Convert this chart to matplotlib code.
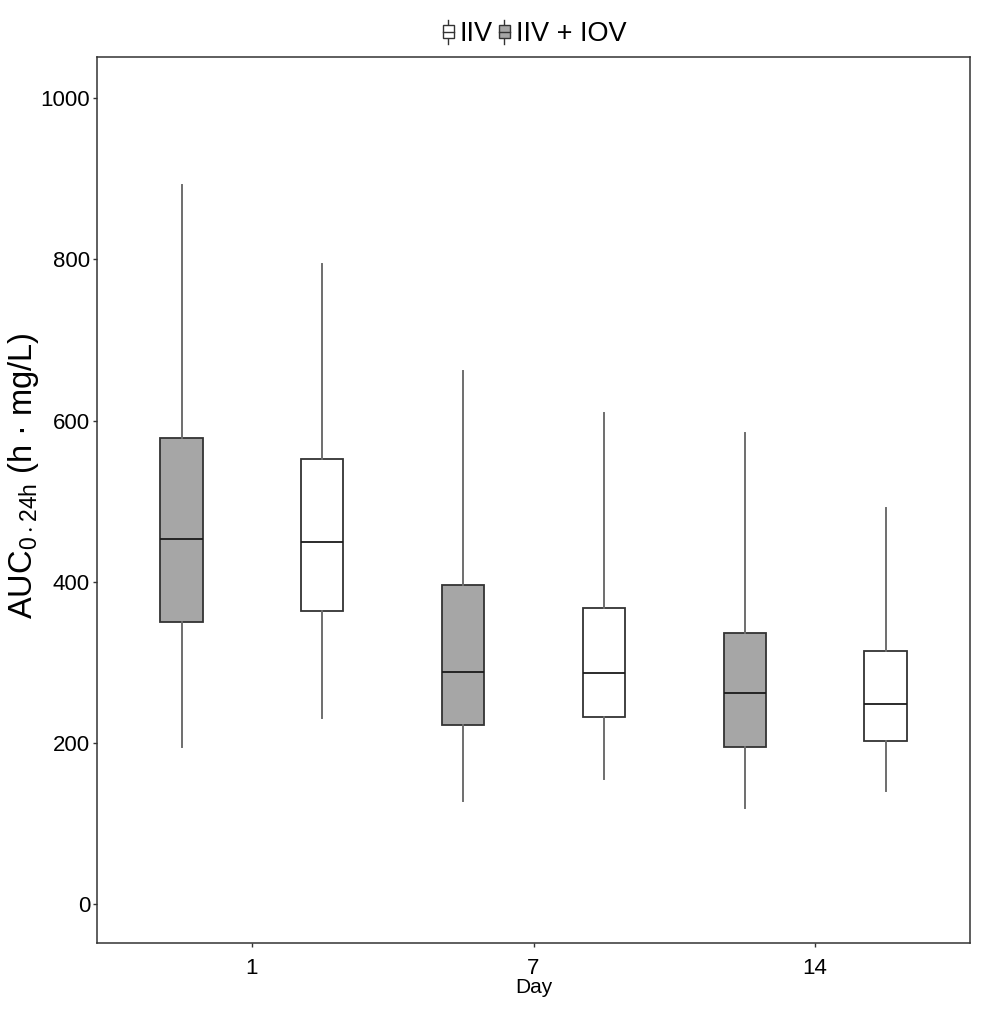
import numpy as np
import matplotlib.pyplot as plt
from matplotlib.legend_handler import HandlerBase
from matplotlib.patches import Rectangle
from matplotlib.lines import Line2D

plt.rcParams['font.family'] = ['Liberation Sans', 'DejaVu Sans']
plt.rcParams['mathtext.fontset'] = 'custom'
plt.rcParams['mathtext.rm'] = 'Liberation Sans'

# values
days = ['1', '7', '14']

# IIV + IOV (grey boxes)
iov_min = [195, 128, 119]
iov_q1 = [350, 223, 195]
iov_med = [453, 288, 262]
iov_q3 = [578, 396, 336]
iov_max = [892, 662, 585]

# IIV (white boxes)
iiv_min = [231, 156, 141]
iiv_q1 = [364, 232, 202]
iiv_med = [449, 287, 248]
iiv_q3 = [552, 367, 314]
iiv_max = [794, 609, 491]


def make_stats(lo, q1, med, q3, hi):
    return [dict(whislo=a, q1=b, med=c, q3=d, whishi=e, fliers=[])
            for a, b, c, d, e in zip(lo, q1, med, q3, hi)]


grey = '#a6a6a6'
edge = '#333333'
wcol = '#6e6e6e'

fig = plt.figure(figsize=(9.84, 10.09), dpi=100)
ax = fig.add_axes([0.0986, 0.0654, 0.8872, 0.8781])

pos = np.arange(1, len(days) + 1)
common = dict(widths=0.15, patch_artist=True, showcaps=False,
              medianprops=dict(color='#1a1a1a', linewidth=1.3),
              whiskerprops=dict(color=wcol, linewidth=1.4))

ax.bxp(make_stats(iov_min, iov_q1, iov_med, iov_q3, iov_max),
       positions=pos - 0.25,
       boxprops=dict(facecolor=grey, edgecolor=edge, linewidth=1.3),
       **common)
ax.bxp(make_stats(iiv_min, iiv_q1, iiv_med, iiv_q3, iiv_max),
       positions=pos + 0.25,
       boxprops=dict(facecolor='white', edgecolor=edge, linewidth=1.3),
       **common)

ax.set_xlim(0.45, 3.55)
ax.set_ylim(-48, 1051)
ax.set_xticks(pos)
ax.set_xticklabels(days)
ax.set_yticks(np.arange(0, 1001, 200))
ax.tick_params(labelsize=16, length=3, width=1, color='#333333',
               labelcolor='black')
ax.tick_params(axis='x', pad=8)
ax.tick_params(axis='y', pad=2)

for s in ax.spines.values():
    s.set_color('#333333')
    s.set_linewidth(1.1)

ax.set_xlabel('Day', fontsize=15, labelpad=-1)
fig.text(0.024, 1 - 476 / 1009, r'AUC$_{\mathregular{0\cdot24h}}$ (h · mg/L)',
         fontsize=23.5, rotation=90, ha='center', va='center')


class BoxHandler(HandlerBase):
    def __init__(self, fc):
        super().__init__()
        self.fc = fc

    def create_artists(self, legend, orig_handle, xdescent, ydescent,
                       width, height, fontsize, trans):
        cx = width / 2 - xdescent
        w = 8
        h = height * 0.7
        cy = height / 2 - ydescent
        line = Line2D([cx, cx], [cy - height * 0.62, cy + height * 0.62],
                      color=edge, linewidth=1, transform=trans)
        rect = Rectangle((cx - w / 2, cy - h / 2), w, h, facecolor=self.fc,
                         edgecolor=edge, linewidth=1, transform=trans)
        mid = Line2D([cx - w / 2, cx + w / 2], [cy, cy], color=edge,
                     linewidth=1, transform=trans)
        return [line, rect, mid]


h1 = Rectangle((0, 0), 1, 1)
h2 = Rectangle((0, 0), 1, 1)
fig.legend([h1, h2], ['IIV', 'IIV + IOV'], loc='center',
           bbox_to_anchor=(0.542, 0.966), ncol=2, frameon=False,
           fontsize=19.5, handlelength=0.6, handletextpad=0.12,
           columnspacing=0.13, borderpad=0.2,
           handler_map={h1: BoxHandler('white'), h2: BoxHandler(grey)})

fig.savefig('out.png', dpi=100)
